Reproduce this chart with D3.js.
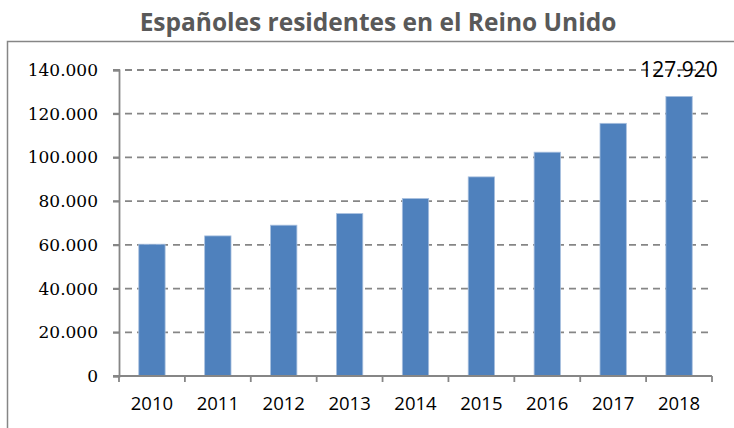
<!DOCTYPE html>
<html>
<head>
<meta charset="utf-8">
<script src="https://cdn.jsdelivr.net/npm/d3@7"></script>
<style>
  body { margin: 0; background: #fff; }
</style>
</head>
<body>
<svg id="chart" width="734" height="428"></svg>
<script>
// data
let years = ["2010", "2011", "2012", "2013", "2014", "2015", "2016", "2017", "2018"];
let residents = [60300, 64100, 69000, 74300, 81200, 91100, 102400, 115600, 127920];
let yTicks = [0, 20000, 40000, 60000, 80000, 100000, 120000, 140000];
let chartTitle = "Españoles residentes en el Reino Unido";

let svg = d3.select("#chart");
let margin = {top: 70, left: 119, right: 22, bottom: 52};
let width = 734 - margin.left - margin.right,
    height = 428 - margin.top - margin.bottom;

let gray = "#868686";

// outer frame (cut off at right and bottom)
svg.append("path")
    .attr("d", "M7.5,440 L7.5,41.5 L740,41.5")
    .attr("fill", "none")
    .attr("stroke", gray)
    .attr("stroke-width", 1.5);

// title
svg.append("text")
    .attr("x", 378)
    .attr("y", 31)
    .attr("text-anchor", "middle")
    .style("font-family", "'Open Sans', sans-serif")
    .style("font-weight", "bold")
    .style("font-size", "24.5px")
    .style("fill", "#595959")
    .text(chartTitle);

let g = svg.append("g").attr("transform", `translate(${margin.left},${margin.top})`);

let x = d3.scaleBand()
    .domain(years)
    .range([0, width])
    .paddingInner(0.6)
    .paddingOuter(0.3);

let y = d3.scaleLinear()
    .domain([0, 140000])
    .range([height, 0]);

let fmt = d => d3.format(",")(d).replace(/,/g, ".");

// gridlines
g.selectAll(".grid")
    .data(yTicks.filter(d => d > 0))
    .enter()
    .append("line")
    .attr("class", "grid")
    .attr("x1", -6)
    .attr("x2", width)
    .attr("y1", d => y(d))
    .attr("y2", d => y(d))
    .attr("stroke", gray)
    .attr("stroke-width", 1.8)
    .attr("stroke-dasharray", "7,5");

// bars
g.selectAll(".bar")
    .data(residents)
    .enter()
    .append("rect")
    .attr("class", "bar")
    .attr("x", (d, i) => x(years[i]))
    .attr("width", x.bandwidth())
    .attr("y", d => y(d))
    .attr("height", d => height - y(d))
    .attr("fill", "#4F81BD")
    .attr("stroke", "#A9C0DF")
    .attr("stroke-width", 0.8);

// y axis
let yAxis = g.append("g")
    .attr("font-family", "'DejaVu Serif', 'Liberation Serif', serif")
    .call(d3.axisLeft(y).tickValues(yTicks).tickSize(6).tickPadding(15).tickFormat(fmt));
yAxis.attr("font-family", "'DejaVu Serif', 'Liberation Serif', serif").attr("font-size", 17);
yAxis.select(".domain").attr("stroke", gray).attr("stroke-width", 1.8);
yAxis.selectAll(".tick line").attr("stroke", gray).attr("stroke-width", 1.8);
yAxis.selectAll("text")
    .attr("font-family", "'DejaVu Serif', 'Liberation Serif', serif")
    .style("font-size", "17px")
    .style("fill", "#000");

// x axis with ticks at band edges
let xAxis = g.append("g").attr("transform", `translate(0,${height})`);
xAxis.append("line")
    .attr("x1", -6).attr("x2", width)
    .attr("stroke", gray).attr("stroke-width", 1.8);
let step = x.step();
xAxis.selectAll(".xt")
    .data(d3.range(years.length + 1))
    .enter()
    .append("line")
    .attr("class", "xt")
    .attr("x1", d => d * step)
    .attr("x2", d => d * step)
    .attr("y1", 0)
    .attr("y2", 6)
    .attr("stroke", gray)
    .attr("stroke-width", 1.8);
xAxis.selectAll(".xl")
    .data(years)
    .enter()
    .append("text")
    .attr("class", "xl")
    .attr("x", d => x(d) + x.bandwidth() / 2)
    .attr("y", 34)
    .attr("text-anchor", "middle")
    .style("font-family", "'Open Sans', sans-serif")
    .style("font-size", "18.5px")
    .style("fill", "#000")
    .text(d => d);

// label on last bar
let last = residents.length - 1;
g.append("text")
    .attr("x", x(years[last]) + x.bandwidth() / 2)
    .attr("y", y(residents[last]) - 19)
    .attr("text-anchor", "middle")
    .style("font-family", "'Open Sans', sans-serif")
    .style("font-size", "21px")
    .style("fill", "#000")
    .text(fmt(residents[last]));
</script>
</body>
</html>
